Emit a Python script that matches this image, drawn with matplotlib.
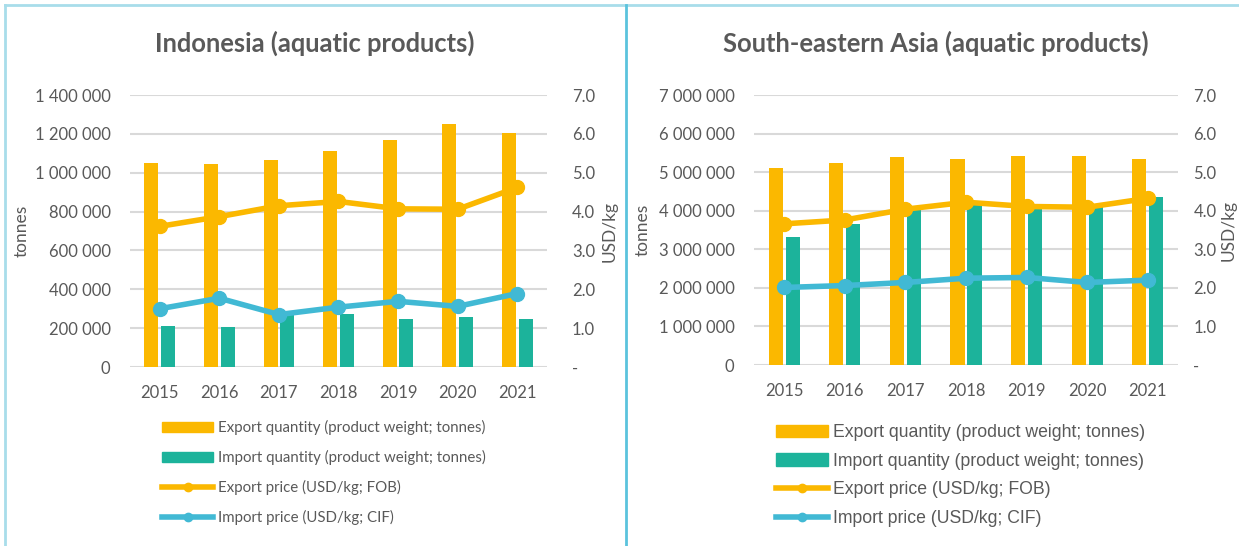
import matplotlib.pyplot as plt
from matplotlib.lines import Line2D
from matplotlib.patches import Patch
from matplotlib.ticker import FuncFormatter
import numpy as np

years = ['2015', '2016', '2017', '2018', '2019', '2020', '2021']

# Indonesia
idn_export_qty = [1052000, 1045000, 1066000, 1112000, 1169000, 1249000, 1206000]
idn_import_qty = [212000, 206000, 286000, 272000, 248000, 257000, 248000]
idn_export_price = [3.62, 3.87, 4.15, 4.26, 4.07, 4.06, 4.62]
idn_import_price = [1.50, 1.77, 1.35, 1.54, 1.69, 1.56, 1.89]

# South-eastern Asia
sea_export_qty = [5100000, 5250000, 5380000, 5340000, 5430000, 5430000, 5340000]
sea_import_qty = [3330000, 3650000, 4060000, 4150000, 4040000, 4100000, 4360000]
sea_export_price = [3.66, 3.76, 4.04, 4.22, 4.11, 4.09, 4.32]
sea_import_price = [2.01, 2.06, 2.14, 2.25, 2.27, 2.14, 2.20]

ORANGE = '#FBB800'
TEAL = '#1CB39B'
BLUE = '#41B9D4'
GREY = '#595959'
GRID = '#D9D9D9'
FONT = 'Lato'

W, H = 1239, 546
fig = plt.figure(figsize=(W / 100, H / 100), dpi=100)


def px_axes(x0, x1, y0, y1):
    return fig.add_axes([x0 / W, 1 - y1 / H, (x1 - x0) / W, (y1 - y0) / H])


def thousands(v, _):
    return f'{int(v):,}'.replace(',', ' ')


def price_fmt(v, _):
    return '-' if abs(v) < 1e-9 else f'{v:.1f}'


def draw_panel(box, title, title_x, exp_q, imp_q, exp_p, imp_p, ymax, ystep,
               ylab_x, rlab_x, rpad, legend_pos, legend_font, legend_size,
               legend_gap, handle_len):
    ax = px_axes(*box)
    x = np.arange(len(years))
    bw = 0.235
    ax.bar(x - 0.14, exp_q, bw, color=ORANGE, zorder=2)
    ax.bar(x + 0.14, imp_q, bw, color=TEAL, zorder=2)
    ax.set_xlim(-0.5, len(years) - 0.5)
    ax.set_ylim(0, ymax)
    ax.set_yticks(np.arange(0, ymax + 1, ystep))
    ax.yaxis.set_major_formatter(FuncFormatter(thousands))
    ax.set_xticks(x)
    ax.set_xticklabels(years)
    ax.grid(axis='y', color=GRID, lw=1.5, zorder=0)
    ax.axhline(0, color=GRID, lw=2, zorder=1)
    for s in ax.spines.values():
        s.set_visible(False)
    ax.tick_params(length=0, colors=GREY, labelsize=12)
    ax.tick_params(axis='y', pad=14)
    ax.tick_params(axis='x', pad=13)
    for lab in ax.get_xticklabels() + ax.get_yticklabels():
        lab.set_fontfamily(FONT)

    ax2 = ax.twinx()
    ax2.plot(x, exp_p, color=ORANGE, lw=4, marker='o', ms=10, zorder=3)
    ax2.plot(x, imp_p, color=BLUE, lw=4, marker='o', ms=10, zorder=3)
    ax2.set_ylim(0, 7)
    ax2.set_yticks(np.arange(0, 7.1, 1))
    ax2.yaxis.set_major_formatter(FuncFormatter(price_fmt))
    for s in ax2.spines.values():
        s.set_visible(False)
    ax2.tick_params(length=0, colors=GREY, labelsize=12, pad=rpad)
    for lab in ax2.get_yticklabels():
        lab.set_fontfamily(FONT)

    fig.text(ylab_x / W, 1 - (box[2] + box[3]) / 2 / H, 'tonnes', rotation=90,
             ha='center', va='center', color=GREY, fontsize=12.5, family=FONT)
    fig.text(rlab_x / W, 1 - (box[2] + box[3]) / 2 / H, 'USD/kg', rotation=90,
             ha='center', va='center', color=GREY, fontsize=12.5, family=FONT)
    fig.text(title_x / W, 1 - 43 / H, title, ha='center', va='center',
             color=GREY, fontsize=18.4, fontweight='bold', family=FONT)

    handles = [
        Patch(color=ORANGE),
        Patch(color=TEAL),
        Line2D([], [], color=ORANGE, lw=4, marker='o', ms=6),
        Line2D([], [], color=BLUE, lw=4, marker='o', ms=6),
    ]
    labels = ['Export quantity (product weight; tonnes)',
              'Import quantity (product weight; tonnes)',
              'Export price (USD/kg; FOB)',
              'Import price (USD/kg; CIF)']
    leg = fig.legend(handles, labels, loc='upper left',
                     bbox_to_anchor=(legend_pos[0] / W, 1 - legend_pos[1] / H),
                     frameon=False, borderpad=0, borderaxespad=0,
                     handlelength=handle_len, handleheight=0.7,
                     handletextpad=0.3, labelspacing=legend_gap,
                     prop={'family': legend_font, 'size': legend_size})
    for t in leg.get_texts():
        t.set_color(GREY)
    return ax


draw_panel((130, 547, 95, 367), 'Indonesia (aquatic products)', 315,
           idn_export_qty, idn_import_qty, idn_export_price, idn_import_price,
           1400000, 200000, 22, 610, 18, (162, 420), FONT, 10.8, 1.0, 3.4)
draw_panel((754, 1178, 95, 365), 'South-eastern Asia (aquatic products)', 936,
           sea_export_qty, sea_import_qty, sea_export_price, sea_import_price,
           7000000, 1000000, 643, 1229, 11, (776, 424), 'Liberation Sans', 12.7,
           0.66, 2.95)

# panel frames
frame = dict(transform=fig.transFigure, lw=2)
fig.add_artist(Line2D([5 / W, 1], [1 - 5 / H] * 2, color='#A8DDEA', **frame))
fig.add_artist(Line2D([5 / W] * 2, [0, 1 - 5 / H], color='#A8DDEA', **frame))
fig.add_artist(Line2D([626 / W] * 2, [0, 1 - 5 / H], color='#5BC3DD', **frame))

fig.savefig('out.png', dpi=100)
